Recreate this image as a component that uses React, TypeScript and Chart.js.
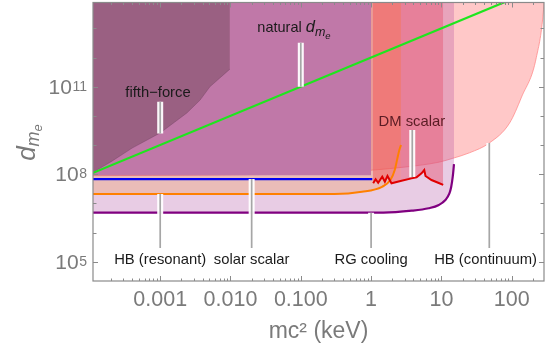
import React, { useEffect, useRef } from "react";
import { Chart, registerables } from "chart.js";

Chart.register(...registerables);

const FONT = '"Liberation Sans", Arial, Helvetica, sans-serif';

// axis ranges: mc^2 (keV) and d_me
const xRange = [1.107e-4, 288];
const yRange = [2.18e4, 7.7e13];

const xTickValues = [0.001, 0.01, 0.1, 1, 10, 100];
const xTickLabels = ["0.001", "0.010", "0.100", "1", "10", "100"];
const yTickValues = [1e5, 1e8, 1e11];
const yTickExponents = ["5", "8", "11"];

// fifth-force excluded region (lower boundary)
const fifthForceM = [1e-4, 2.06e-4, 4.0e-4, 1.0e-3, 2.4e-3, 3.7e-3, 5.1e-3, 9.8e-3];
const fifthForceD = [1.0e8, 2.8e8, 7.9e8, 2.6e9, 1.26e10, 3.5e10, 1.0e11, 4.0e11];

// natural d_me region
const naturalM = [1e-4, 1.0];
const naturalD = [9.2e7, 9.2e7];

// HB (continuum)
const hbContM = [1e-4, 0.355, 1.05, 3.16, 9.3, 14.5, 25, 48, 93, 138, 224, 288, 300];
const hbContD = [8.9e7, 1.1e8, 1.38e8, 1.78e8, 2.6e8, 3.5e8, 5.4e8, 1.17e9, 5.6e9, 4.4e10, 1.0e12, 7.2e13, 5e14];

// HB (resonant)
const hbResM = [1e-4, 1.5, 3.8, 6.6, 9.2, 11.4, 13.0, 13.8, 14.5, 15.1];
const hbResD = [4.8e6, 4.8e6, 5.6e6, 6.8e6, 8.8e6, 1.3e7, 2.2e7, 3.7e7, 8.2e7, 2.2e8];

// solar scalar (orange)
const solarM = [1e-4, 0.3, 0.74, 1.43, 1.88, 2.17, 2.34, 2.52, 2.66];
const solarD = [2.1e7, 2.1e7, 2.5e7, 3.7e7, 6.3e7, 1.39e8, 3.1e8, 6.8e8, 1.0e9];

// blue bound
const blueM = [1e-4, 1.04];
const blueD = [6.8e7, 6.8e7];

// DM scalar (red)
const dmScalarM = [1.07, 1.16, 1.26, 1.44, 1.57, 1.71, 1.95, 2.71, 3.76, 4.43, 5.21, 5.7, 5.94, 7.23, 9.0, 10.6];
const dmScalarD = [4.9e7, 6.7e7, 5.1e7, 8.2e7, 5.5e7, 8.7e7, 4.9e7, 6.0e7, 7.2e7, 7.8e7, 1.07e8, 1.39e8, 8.7e7, 6.3e7, 5.1e7, 4.3e7];

// vertical bands above the DM scalar curve
const rgBandM = [1.06, 1.16, 1.26, 1.44, 1.57, 1.71, 1.95, 2.66];
const rgBandD = [4.9e7, 6.7e7, 5.1e7, 8.2e7, 5.5e7, 8.7e7, 4.9e7, 5.9e7];
const dmBandM = [2.66, 3.76, 4.43, 5.21, 5.7, 5.94, 7.23, 9.0, 10.6];
const dmBandD = [5.9e7, 7.2e7, 7.8e7, 1.07e8, 1.39e8, 8.7e7, 6.3e7, 5.1e7, 4.3e7];

// green line (natural)
const greenM = [1e-4, 300];
const greenD = [1e8, 3e14];

// annotation labels (alphabetic baseline)
const labelTexts = ["fifth\u2212force", "DM scalar", "HB (resonant)", "solar scalar", "RG cooling", "HB (continuum)"];
const labelM = [9.3e-4, 3.8, 0.001, 0.02, 1, 42.5];
const labelD = [4.4e10, 4.5e9, 8.15e4, 8.15e4, 8.15e4, 8.15e4];
const labelColors = ["#1a1a1a", "#5a1c24", "#1a1a1a", "#1a1a1a", "#1a1a1a", "#1a1a1a"];
const naturalLabelM = 0.08;
const naturalLabelD = 7.5e12;

// pointer bars
const pointerM = [0.001, 0.1, 3.85, 0.001, 0.02, 1, 48];
const pointerTopD = [3.05e10, 3.2e12, 3.27e9, 2.1e7, 6.8e7, 4.8e6, 1.17e9];
const pointerBottomD = [2.5e9, 1e11, 8e7, 2.95e5, 2.95e5, 2.95e5, 2.95e5];

const mk = (ms: number[], ds: number[]) => ms.map((m, i) => ({ x: m, y: ds[i] }));

function drawParts(ctx: CanvasRenderingContext2D, parts: { t: string; f: string; dy: number }[], cx: number, by: number, color: string) {
  let total = 0;
  const widths = parts.map((p) => {
    ctx.font = p.f;
    const w = ctx.measureText(p.t).width;
    total += w;
    return w;
  });
  let x = cx - total / 2;
  ctx.fillStyle = color;
  ctx.textAlign = "left";
  ctx.textBaseline = "alphabetic";
  parts.forEach((p, i) => {
    ctx.font = p.f;
    ctx.fillText(p.t, x, by + p.dy);
    x += widths[i];
  });
}

const overlay = {
  id: "overlay",
  afterDatasetsDraw(chart: any) {
    const { ctx, chartArea: a } = chart;
    const xs = chart.scales.x;
    const ys = chart.scales.y;
    ctx.save();
    ctx.beginPath();
    ctx.rect(a.left, a.top, a.right - a.left, a.bottom - a.top);
    ctx.clip();
    // pointers
    pointerM.forEach((m, i) => {
      const px = xs.getPixelForValue(m);
      const y1 = ys.getPixelForValue(pointerTopD[i]);
      const y2 = ys.getPixelForValue(pointerBottomD[i]);
      ctx.lineCap = "butt";
      ctx.strokeStyle = "rgba(255,255,255,0.95)";
      ctx.lineWidth = 6;
      ctx.beginPath();
      ctx.moveTo(px, y1);
      ctx.lineTo(px, y2);
      ctx.stroke();
      ctx.strokeStyle = "#a6a6a6";
      ctx.lineWidth = 1.7;
      ctx.beginPath();
      ctx.moveTo(px, y1);
      ctx.lineTo(px, y2);
      ctx.stroke();
    });
    // labels
    ctx.textAlign = "center";
    ctx.textBaseline = "alphabetic";
    labelTexts.forEach((t, i) => {
      ctx.font = "14.8px " + FONT;
      ctx.fillStyle = labelColors[i];
      ctx.fillText(t, xs.getPixelForValue(labelM[i]), ys.getPixelForValue(labelD[i]));
    });
    drawParts(
      ctx,
      [
        { t: "natural ", f: "14.5px " + FONT, dy: 0 },
        { t: "d", f: "italic 16.5px " + FONT, dy: 0 },
        { t: "m", f: "italic 12.5px " + FONT, dy: 3.5 },
        { t: "e", f: "italic 9.5px " + FONT, dy: 6.5 },
      ],
      xs.getPixelForValue(naturalLabelM),
      ys.getPixelForValue(naturalLabelD),
      "#1a1a1a"
    );
    ctx.restore();

    // frame
    ctx.save();
    const gray = "#8a8a8a";
    ctx.strokeStyle = gray;
    ctx.lineWidth = 1.2;
    ctx.strokeRect(a.left, a.top, a.right - a.left, a.bottom - a.top);
    ctx.lineWidth = 1;
    // x ticks (bottom and top)
    for (let k = -4; k <= 2; k++) {
      for (let j = 1; j <= 9; j++) {
        const v = j * Math.pow(10, k);
        if (v < xRange[0] || v > xRange[1]) continue;
        const px = Math.round(xs.getPixelForValue(v)) + 0.5;
        const len = j === 1 ? 5 : 2.5;
        ctx.beginPath();
        ctx.moveTo(px, a.bottom);
        ctx.lineTo(px, a.bottom - len);
        ctx.moveTo(px, a.top);
        ctx.lineTo(px, a.top + len);
        ctx.stroke();
      }
    }
    // y ticks (left and right), each decade
    for (let k = 5; k <= 13; k++) {
      const v = Math.pow(10, k);
      const py = Math.round(ys.getPixelForValue(v)) + 0.5;
      const len = yTickValues.indexOf(v) >= 0 ? 5 : 3.5;
      ctx.beginPath();
      ctx.moveTo(a.left, py);
      ctx.lineTo(a.left + len, py);
      ctx.moveTo(a.right, py);
      ctx.lineTo(a.right - len, py);
      ctx.stroke();
    }
    // x tick labels
    const txt = "#7a7a7a";
    ctx.fillStyle = txt;
    ctx.font = "21.5px " + FONT;
    ctx.textAlign = "center";
    ctx.textBaseline = "middle";
    xTickValues.forEach((v, i) => {
      ctx.fillText(xTickLabels[i], xs.getPixelForValue(v), a.bottom + 19);
    });
    // y tick labels: 10^n
    yTickValues.forEach((v, i) => {
      const py = ys.getPixelForValue(v);
      const right = a.left - 6;
      ctx.font = "14px " + FONT;
      ctx.textAlign = "right";
      ctx.textBaseline = "alphabetic";
      const sw = ctx.measureText(yTickExponents[i]).width;
      ctx.fillText(yTickExponents[i], right, py + 4);
      ctx.font = "21px " + FONT;
      ctx.textBaseline = "middle";
      ctx.fillText("10", right - sw - 0.5, py + 1.5);
    });
    // x title
    ctx.font = "23px " + FONT;
    ctx.textAlign = "center";
    ctx.textBaseline = "middle";
    ctx.fillText("mc\u00B2 (keV)", (a.left + a.right) / 2, 332);
    // y title
    ctx.translate(35, 142.5);
    ctx.rotate(-Math.PI / 2);
    drawParts(
      ctx,
      [
        { t: "d", f: "italic 26px " + FONT, dy: 0 },
        { t: "m", f: "italic 18px " + FONT, dy: 3.5 },
        { t: "e", f: "italic 13px " + FONT, dy: 6.5 },
      ],
      0,
      0,
      txt
    );
    ctx.restore();
  },
};

export default function App() {
  const ref = useRef<HTMLCanvasElement | null>(null);
  useEffect(() => {
    if (!ref.current) return;
    const none = "rgba(0,0,0,0)";
    const chart = new Chart(ref.current, {
      type: "line",
      data: {
        datasets: [
          { label: "natural line", data: mk(greenM, greenD), borderColor: "#1ee61e", borderWidth: 2.2, fill: false, order: 1 },
          { label: "DM scalar", data: mk(dmScalarM, dmScalarD), borderColor: "#e00000", borderWidth: 2, fill: false, order: 2 },
          { label: "blue", data: mk(blueM, blueD), borderColor: "#0000f0", borderWidth: 2.2, fill: false, order: 3 },
          { label: "solar line", data: mk(solarM, solarD), borderColor: "#ff8000", borderWidth: 2, fill: false, cubicInterpolationMode: "monotone", order: 3 },
          { label: "HB res line", data: mk(hbResM, hbResD), borderColor: "#800080", borderWidth: 2.2, fill: false, cubicInterpolationMode: "monotone", order: 3 },
          { label: "RG band", data: mk(rgBandM, rgBandD), borderColor: none, borderWidth: 0, backgroundColor: "rgba(243,88,90,0.5)", fill: "end", order: 5 },
          { label: "DM band", data: mk(dmBandM, dmBandD), borderColor: none, borderWidth: 0, backgroundColor: "rgba(230,92,119,0.5)", fill: "end", order: 5 },
          { label: "fifth-force", data: mk(fifthForceM, fifthForceD), borderColor: "rgba(110,60,95,0.5)", borderWidth: 0.7, backgroundColor: "#9a6082", fill: "end", order: 6 },
          { label: "natural", data: mk(naturalM, naturalD), borderColor: none, borderWidth: 0, backgroundColor: "#c078a8", fill: "end", order: 7 },
          { label: "solar region", data: mk(solarM, solarD), borderColor: none, borderWidth: 0, backgroundColor: "rgba(247,124,8,0.2)", fill: "end", cubicInterpolationMode: "monotone", order: 8 },
          { label: "HB res region", data: mk(hbResM, hbResD), borderColor: none, borderWidth: 0, backgroundColor: "rgba(171,68,156,0.27)", fill: "end", cubicInterpolationMode: "monotone", order: 9 },
          { label: "HB continuum", data: mk(hbContM, hbContD), borderColor: "rgba(255,130,130,0.9)", borderWidth: 0.8, backgroundColor: "#ffc8c8", fill: "end", cubicInterpolationMode: "monotone", order: 10 },
        ] as any,
      },
      options: {
        animation: false,
        responsive: false,
        devicePixelRatio: 1,
        layout: { padding: { left: 93, right: 7, top: 2.5, bottom: 72 } },
        elements: { point: { radius: 0, hoverRadius: 0 }, line: { tension: 0 } },
        plugins: { legend: { display: false }, tooltip: { enabled: false } },
        events: [],
        scales: {
          x: { type: "logarithmic", min: xRange[0], max: xRange[1], display: false },
          y: { type: "logarithmic", min: yRange[0], max: yRange[1], display: false },
        },
      } as any,
      plugins: [overlay],
    });
    return () => chart.destroy();
  }, []);
  return (
    <div style={{ position: "fixed", left: 0, top: 0, width: 551, height: 353, background: "#fff" }}>
      <canvas ref={ref} width={551} height={353} style={{ display: "block" }} />
    </div>
  );
}
